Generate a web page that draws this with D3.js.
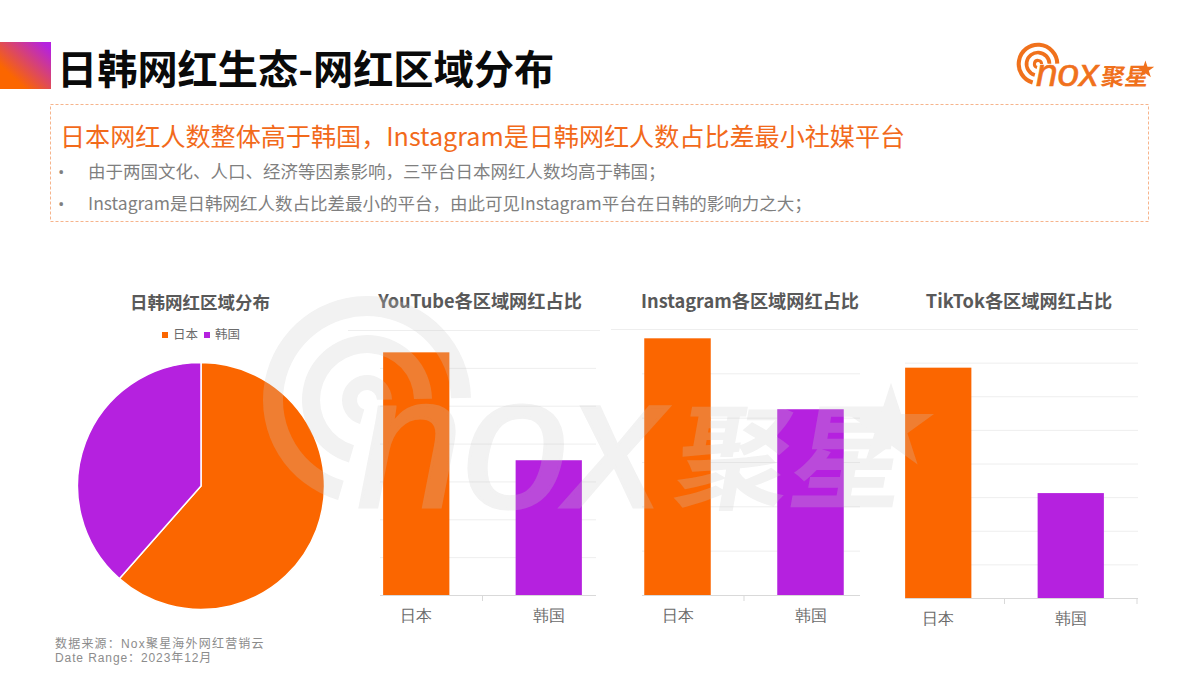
<!DOCTYPE html>
<html>
<head>
<meta charset="utf-8">
<script src="https://cdn.jsdelivr.net/npm/d3@7.9.0/dist/d3.min.js"></script>
<style>
  html, body { margin: 0; padding: 0; background: #fff; }
  svg { display: block; font-family: "Noto Sans CJK SC", "Open Sans", sans-serif; }
  .grid line { stroke: #eeeeee; }
  .axis path { display: none; }
  .axis text { font-size: 15.5px; fill: #6b6b6b; }
  .axis line { stroke: #d9d9d9; }
</style>
</head>
<body>
<svg id="page" width="1200" height="675"></svg>
<script>
// ---------------------------------------------------------
// Data
// ---------------------------------------------------------
const regions = ['日本', '韩国'];
const pieValues = [61.5, 38.5];
const youtubeValues = [64.1, 35.6];
const instagramValues = [57.9, 41.9];
const tiktokValues = [68.5, 31.2];

const pageTitle = '日韩网红生态-网红区域分布';
const headline = '日本网红人数整体高于韩国，Instagram是日韩网红人数占比差最小社媒平台';
const bullets = [
  '由于两国文化、人口、经济等因素影响，三平台日本网红人数均高于韩国；',
  'Instagram是日韩网红人数占比差最小的平台，由此可见Instagram平台在日韩的影响力之大；'
];
const pieTitle = '日韩网红区域分布';
const sourceLines = ['数据来源：Nox聚星海外网红营销云', 'Date Range：2023年12月'];

const ORANGE = '#fb6600';
const PURPLE = '#b521df';
const colors = d3.scaleOrdinal(regions, [ORANGE, PURPLE]);

const svg = d3.select('#page');

// ---------------------------------------------------------
// Header
// ---------------------------------------------------------
const defs = svg.append('defs');
const grad = defs.append('linearGradient').attr('id', 'corner')
  .attr('x1', 0).attr('y1', 1).attr('x2', 1).attr('y2', 0);
grad.append('stop').attr('offset', '25%').attr('stop-color', ORANGE);
grad.append('stop').attr('offset', '92%').attr('stop-color', PURPLE);

svg.append('rect').attr('x', 0).attr('y', 42).attr('width', 51).attr('height', 47)
  .attr('fill', 'url(#corner)');

svg.append('text').attr('x', 57).attr('y', 84)
  .attr('font-size', 40.2).attr('font-weight', 700).attr('fill', '#0a0a0a')
  .text(pageTitle);

svg.append('rect').attr('x', 50.5).attr('y', 104.5).attr('width', 1098).attr('height', 117)
  .attr('fill', 'none').attr('stroke', '#f6b48c').attr('stroke-dasharray', '3 2');

svg.append('text').attr('x', 60).attr('y', 146)
  .attr('font-size', 25.1).attr('fill', '#f26a1b')
  .text(headline);

bullets.forEach((b, i) => {
  const y = 178 + i * 32;
  svg.append('text').attr('x', 58).attr('y', y)
    .attr('font-family', '"Open Sans", sans-serif')
    .attr('font-size', 17).attr('fill', '#7f7f7f').text('•');
  svg.append('text').attr('x', 88).attr('y', y)
    .attr('font-size', 17.5).attr('fill', '#7f7f7f').text(b);
});

// ---------------------------------------------------------
// Logo: one drawing, used small in the corner and huge as watermark
// ---------------------------------------------------------
function drawLogo(x, y, scale, color, opacity) {
  const g = svg.append('g')
    .attr('transform', `translate(${x},${y}) scale(${scale})`)
    .attr('opacity', opacity);

  const ring = d3.arc().startAngle(-2.86).endAngle(1.55);
  [[84, 104], [47, 65], [10, 25]].forEach(([inner, outer]) => {
    g.append('path')
      .attr('d', ring.innerRadius(inner).outerRadius(outer)())
      .attr('fill', color);
  });

  g.append('text').attr('x', -10).attr('y', 107)
    .attr('font-family', '"Liberation Sans", sans-serif')
    .attr('font-style', 'italic')
    .attr('font-size', 190)
    .attr('stroke', color).attr('stroke-width', 3)
    .attr('fill', color).text('nox');

  g.append('text')
    .attr('transform', 'translate(303,100) skewX(-10)')
    .attr('font-size', 115).attr('font-weight', 700)
    .attr('fill', color).text('聚星');

  g.append('path')
    .attr('d', d3.symbol(d3.symbolStar, 2300)())
    .attr('transform', 'translate(524,28)')
    .attr('fill', color);
  return g;
}

drawLogo(1038, 64, 0.205, '#f0711c', 1);

// ---------------------------------------------------------
// Pie
// ---------------------------------------------------------
const pieG = svg.append('g').attr('transform', 'translate(201,486)');
const pie = d3.pie().sort(null);
const arc = d3.arc().innerRadius(0).outerRadius(123.5);
pieG.selectAll('path')
  .data(pie(pieValues))
  .join('path')
  .attr('d', arc)
  .attr('fill', (d, i) => colors(regions[i]))
  .attr('stroke', '#fff')
  .attr('stroke-width', 1.5);

svg.append('text').attr('x', 200).attr('y', 309).attr('text-anchor', 'middle')
  .attr('font-size', 17.5).attr('font-weight', 700).attr('fill', '#595959').text(pieTitle);

const legend = svg.append('g');
regions.forEach((r, i) => {
  const lx = 162 + i * 42;
  legend.append('rect').attr('x', lx).attr('y', 332).attr('width', 6).attr('height', 6)
    .attr('fill', colors(r));
  legend.append('text').attr('x', lx + 11).attr('y', 339)
    .attr('font-size', 12.5).attr('fill', '#6b6b6b').text(r);
});

// ---------------------------------------------------------
// Bar panels
// ---------------------------------------------------------
function renderBars(p) {
  const x = d3.scaleBand().domain(regions).range(p.band).paddingInner(0.5).paddingOuter(0.25);
  const y = d3.scaleLinear().domain([0, p.max]).range([p.base, p.top]);
  const g = svg.append('g');

  svg.append('text').attr('x', p.titleX).attr('y', 308).attr('text-anchor', 'middle')
    .attr('font-size', 18.2).attr('font-weight', 700).attr('fill', '#595959')
    .text(p.title);

  g.append('g').attr('class', 'grid')
    .selectAll('line')
    .data(y.ticks(p.max / 10).filter(d => d > 0))
    .join('line')
    .attr('x1', d => d === p.max ? p.topGrid[0] : p.grid[0])
    .attr('x2', d => d === p.max ? p.topGrid[1] : p.grid[1])
    .attr('y1', d => y(d) + 0.5)
    .attr('y2', d => y(d) + 0.5);

  g.selectAll('rect')
    .data(p.values)
    .join('rect')
    .attr('x', (d, i) => x(regions[i]))
    .attr('width', x.bandwidth())
    .attr('y', d => y(d))
    .attr('height', d => p.base - y(d))
    .attr('fill', (d, i) => colors(regions[i]));

  // baseline stops short of the band, as on the slide
  g.append('line').attr('x1', p.grid[0]).attr('x2', p.grid[1])
    .attr('y1', p.base + 0.5).attr('y2', p.base + 0.5).attr('stroke', '#d9d9d9');
  g.append('line')
    .attr('x1', (p.band[0] + p.band[1]) / 2).attr('x2', (p.band[0] + p.band[1]) / 2)
    .attr('y1', p.base).attr('y2', p.base + 6).attr('stroke', '#d9d9d9');
  if (p.endTick) {
    g.append('line').attr('x1', p.band[1]).attr('x2', p.band[1])
      .attr('y1', p.base).attr('y2', p.base + 6).attr('stroke', '#d9d9d9');
  }

  g.append('g').attr('class', 'axis')
    .attr('transform', `translate(0,${p.base})`)
    .call(d3.axisBottom(x).tickSize(0).tickPadding(15))
    .selectAll('text').attr('font-family', null);
}

renderBars({ title: 'YouTube各区域网红占比', titleX: 480, values: youtubeValues, max: 70,
  base: 595, top: 330, band: [350, 615], grid: [380, 596], topGrid: [348, 600] });
renderBars({ title: 'Instagram各区域网红占比', titleX: 750, values: instagramValues, max: 60,
  base: 595, top: 329, band: [611, 877], grid: [642, 860], topGrid: [611, 877] });
renderBars({ title: 'TikTok各区域网红占比', titleX: 1019, values: tiktokValues, max: 80,
  base: 598, top: 329, band: [872, 1137], grid: [905, 1138], topGrid: [877, 1138], endTick: true });

// ---------------------------------------------------------
// Watermark + source
// ---------------------------------------------------------
drawLogo(367, 400, 1, '#c8c8c8', 0.25);

sourceLines.forEach((s, i) => {
  svg.append('text').attr('x', 55).attr('y', 648 + i * 14)
    .attr('font-family', '"Liberation Sans", "Noto Sans CJK SC", sans-serif')
    .attr('font-size', 12)
    .attr('letter-spacing', i === 0 ? 1.2 : 0.9)
    .attr('fill', '#8c8c8c').text(s);
});
</script>
</body>
</html>
